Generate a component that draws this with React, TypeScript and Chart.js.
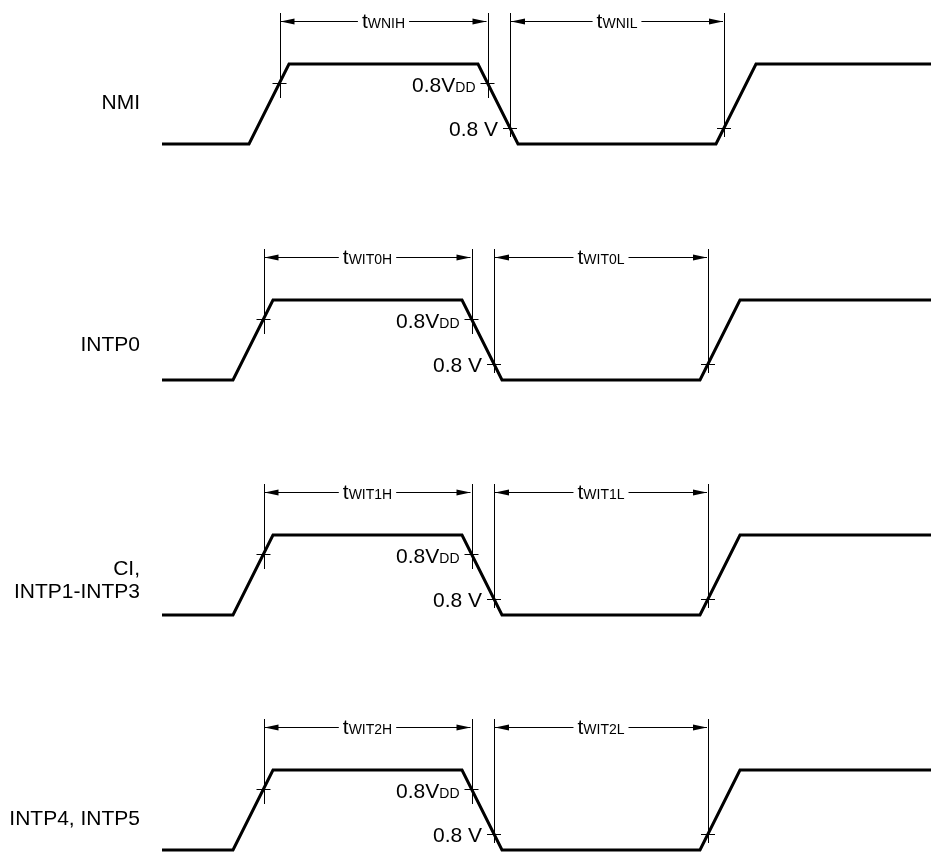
import React, { useEffect, useRef } from "react";
import { Chart, registerables } from "chart.js";

Chart.register(...registerables);

// ---- data ----
const signalNames: string[][] = [["NMI"], ["INTP0"], ["CI,", "INTP1-INTP3"], ["INTP4, INTP5"]];
const highWidthSubs = ["WNIH", "WIT0H", "WIT1H", "WIT2H"];
const lowWidthSubs = ["WNIL", "WIT0L", "WIT1L", "WIT2L"];
const rowLowLevel = [8.85, 5.9, 2.9625, 0.025]; // level of logic "0" for each row
const traceStart = [162, 162, 162, 162];
const riseStart = [249, 233, 233, 233];
const fallStart = [478, 462, 462, 462];
const rise2Start = [716, 700, 700, 700];
const traceEnd = [931, 931, 931, 931];
const edgeTime = 40;
const vddFraction = 0.7625; // 0.8 VDD level (fraction of swing)
const lowFraction = 0.2; // 0.8 V level (fraction of swing)
const thresholdLabels = [["0.8V", "DD"], ["0.8 V", ""]];

const FONT = '"Liberation Sans", Arial, Helvetica, sans-serif';
const MAIN_SIZE = 21;
const SUB_SIZE = 14;

function buildWave(i: number) {
  const lo = rowLowLevel[i];
  const hi = lo + 1;
  return [
    { x: traceStart[i], y: lo },
    { x: riseStart[i], y: lo },
    { x: riseStart[i] + edgeTime, y: hi },
    { x: fallStart[i], y: hi },
    { x: fallStart[i] + edgeTime, y: lo },
    { x: rise2Start[i], y: lo },
    { x: rise2Start[i] + edgeTime, y: hi },
    { x: traceEnd[i], y: hi },
  ];
}

function drawRich(ctx: CanvasRenderingContext2D, x: number, y: number, main: string, sub: string, align: string) {
  ctx.font = `${MAIN_SIZE}px ${FONT}`;
  const w1 = ctx.measureText(main).width;
  ctx.font = `${SUB_SIZE}px ${FONT}`;
  const w2 = sub ? ctx.measureText(sub).width : 0;
  const total = w1 + w2;
  const left = align === "right" ? x - total : align === "center" ? x - total / 2 : x;
  ctx.textAlign = "left";
  ctx.textBaseline = "alphabetic";
  ctx.fillStyle = "#000";
  ctx.font = `${MAIN_SIZE}px ${FONT}`;
  ctx.fillText(main, left, y);
  if (sub) {
    ctx.font = `${SUB_SIZE}px ${FONT}`;
    ctx.fillText(sub, left + w1, y);
  }
  return [left, left + total];
}

const timingPlugin = {
  id: "timingAnnotations",
  afterDatasetsDraw(chart: any) {
    const ctx: CanvasRenderingContext2D = chart.ctx;
    const xs = chart.scales.x;
    const ys = chart.scales.y;
    const px = (v: number) => xs.getPixelForValue(v);
    const py = (v: number) => ys.getPixelForValue(v);
    const snap = (v: number) => Math.round(v) + 0.5;
    ctx.save();
    ctx.strokeStyle = "#000";
    ctx.fillStyle = "#000";
    ctx.lineWidth = 1;

    const vline = (x: number, y1: number, y2: number) => {
      ctx.beginPath();
      ctx.moveTo(snap(x), y1);
      ctx.lineTo(snap(x), y2);
      ctx.stroke();
    };
    const hline = (x1: number, x2: number, y: number) => {
      ctx.beginPath();
      ctx.moveTo(x1, snap(y));
      ctx.lineTo(x2, snap(y));
      ctx.stroke();
    };
    const cross = (x: number, y: number) => {
      hline(x - 7, x + 7, y);
      vline(x, y - 8, y + 8);
    };
    const arrow = (xa: number, xb: number, y: number, sub: string) => {
      const yy = snap(y);
      const [l, r] = drawRich(ctx, (xa + xb) / 2, Math.round(y) + 7, "t", sub, "center");
      ctx.beginPath();
      ctx.moveTo(xa + 1, yy);
      ctx.lineTo(l - 4, yy);
      ctx.moveTo(r + 4, yy);
      ctx.lineTo(xb - 1, yy);
      ctx.stroke();
      ctx.beginPath();
      ctx.moveTo(xa + 1, yy);
      ctx.lineTo(xa + 15, yy - 3);
      ctx.lineTo(xa + 15, yy + 3);
      ctx.closePath();
      ctx.fill();
      ctx.beginPath();
      ctx.moveTo(xb - 1, yy);
      ctx.lineTo(xb - 15, yy - 3);
      ctx.lineTo(xb - 15, yy + 3);
      ctx.closePath();
      ctx.fill();
    };

    const nameBaselines = [[35], [29], [40, 17], [25]];

    for (let i = 0; i < rowLowLevel.length; i++) {
      const lo = rowLowLevel[i];
      const xRiseVdd = px(riseStart[i] + edgeTime * vddFraction);
      const xFallVdd = px(fallStart[i] + edgeTime * (1 - vddFraction));
      const xFallLow = px(fallStart[i] + edgeTime * (1 - lowFraction));
      const xRiseLow = px(rise2Start[i] + edgeTime * lowFraction);
      const yVdd = py(lo + vddFraction);
      const yLow = py(lo + lowFraction);
      const yTop = py(lo + 1.6375);
      const yVddBottom = py(lo + 0.575);
      const yLowBottom = py(lo + 0.0875);
      const yArrow = py(lo + 1.5375);

      // dimension lines
      vline(xRiseVdd, yTop, yVddBottom);
      vline(xFallVdd, yTop, yVddBottom);
      vline(xFallLow, yTop, yLowBottom);
      vline(xRiseLow, yTop, yLowBottom);

      // crosses
      cross(xRiseVdd, yVdd);
      cross(xFallVdd, yVdd);
      cross(xFallLow, yLow);
      cross(xRiseLow, yLow);

      // arrows
      arrow(xRiseVdd, xFallVdd, yArrow, highWidthSubs[i]);
      arrow(xFallLow, xRiseLow, yArrow, lowWidthSubs[i]);

      // threshold labels
      drawRich(ctx, xFallVdd - 12, Math.round(yVdd) + 9, thresholdLabels[0][0], thresholdLabels[0][1], "right");
      drawRich(ctx, xFallLow - 12, Math.round(yLow) + 8, thresholdLabels[1][0], thresholdLabels[1][1], "right");

      // signal names
      const yLoPx = py(lo);
      signalNames[i].forEach((name, k) => {
        drawRich(ctx, 140, Math.round(yLoPx) - nameBaselines[i][k], name, "", "right");
      });
    }
    ctx.restore();
  },
};

export default function App() {
  const canvasRef = useRef<HTMLCanvasElement | null>(null);

  useEffect(() => {
    if (!canvasRef.current) return;
    const chart = new Chart(canvasRef.current, {
      type: "scatter",
      data: {
        datasets: rowLowLevel.map((_, i) => ({
          label: signalNames[i].join(" "),
          data: buildWave(i),
          showLine: true,
          borderColor: "#000",
          backgroundColor: "#000",
          borderWidth: 3,
          pointRadius: 0,
          pointHoverRadius: 0,
          tension: 0,
          borderJoinStyle: "miter" as const,
          borderCapStyle: "butt" as const,
          fill: false,
          clip: 4,
        })),
      },
      options: {
        responsive: false,
        animation: false,
        events: [],
        layout: { padding: 0 },
        scales: {
          x: { type: "linear", min: 0, max: 931, display: false },
          y: { type: "linear", min: 0, max: 10.65, display: false },
        },
        plugins: {
          legend: { display: false },
          tooltip: { enabled: false },
        },
      },
      plugins: [timingPlugin],
    });
    return () => chart.destroy();
  }, []);

  return (
    <div style={{ position: "absolute", left: 0, top: 0, width: 931, height: 852, background: "#fff" }}>
      <canvas ref={canvasRef} width={931} height={852} style={{ display: "block", width: 931, height: 852 }} />
    </div>
  );
}
